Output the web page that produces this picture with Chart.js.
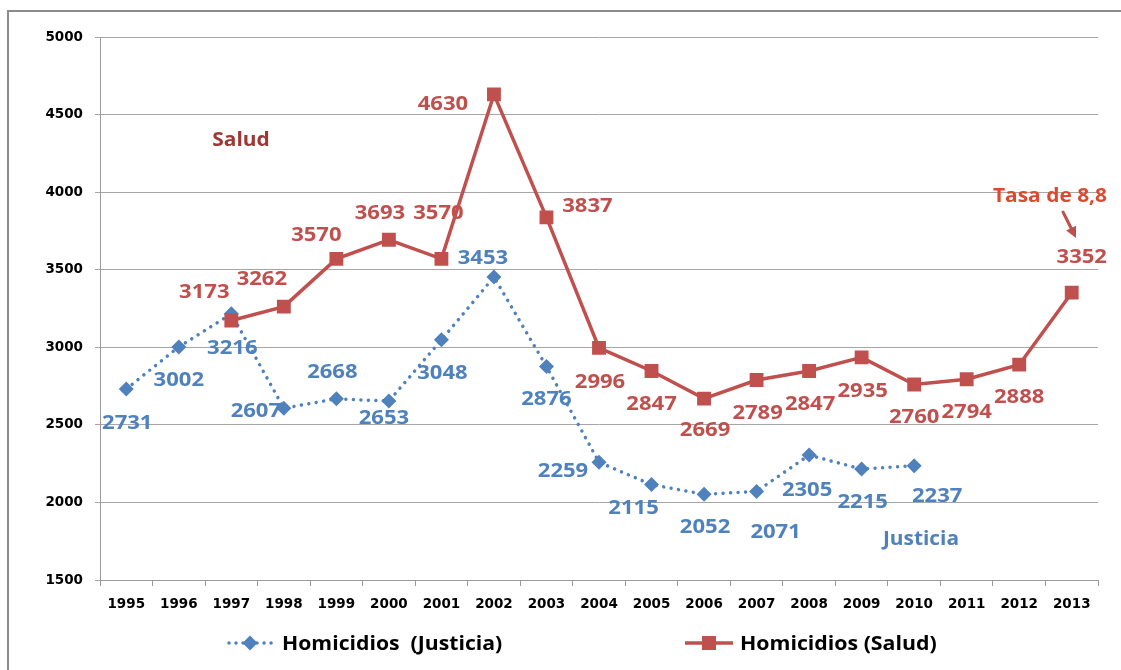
<!DOCTYPE html>
<html>
<head>
<meta charset="utf-8">
<script src="https://cdn.jsdelivr.net/npm/chart.js@4.4.1/dist/chart.umd.min.js"></script>
<style>
html,body{margin:0;padding:0;background:#fff;}
canvas{display:block;}
</style>
</head>
<body>
<canvas id="c" width="1121" height="670"></canvas>
<script>
// ---- data ----
const years = ['1995','1996','1997','1998','1999','2000','2001','2002','2003','2004','2005','2006','2007','2008','2009','2010','2011','2012','2013'];
const justicia = [2731,3002,3216,2607,2668,2653,3048,3453,2876,2259,2115,2052,2071,2305,2215,2237,null,null,null];
const salud = [null,null,3173,3262,3570,3693,3570,4630,3837,2996,2847,2669,2789,2847,2935,2760,2794,2888,3352];
const yTicks = [1500,2000,2500,3000,3500,4000,4500,5000];
const legendNames = ['Homicidios  (Justicia)','Homicidios (Salud)'];

// ---- label placement (pixel offsets from each point) ----
const justiciaLabelOffsets = [[1,33],[0,32],[1,33],[-28,2],[-4,-28],[-5,16],[1,32],[-11,-20],[0,32],[-36,8],[-18,23],[1,32],[19,40],[-2,34],[1,32],[23,30],null,null,null];
const saludLabelOffsets = [null,null,[-27,-29],[-22,-28],[-20,-25],[-9,-28],[-3,-47],[-51,9],[41,-12],[1,33],[0,32],[1,31],[1,32],[1,32],[1,33],[0,32],[0,32],[0,32],[10,-36]];

const BLUE = '#4F81BD', RED = '#C0504D';
const LABEL_FONT = '"Open Sans"';
const CAP = 0.714;
const HS = 1.16; // horizontal stretch of the label lettering

function stretchedText(ctx, text, x, y, size, color, align, hs) {
  ctx.save();
  ctx.font = 'bold ' + size + 'px ' + LABEL_FONT;
  ctx.fillStyle = color;
  ctx.textAlign = align || 'center';
  ctx.textBaseline = 'alphabetic';
  ctx.translate(x, y + size * CAP / 2);
  ctx.scale(hs || HS, 1);
  ctx.fillText(text, 0, 0);
  ctx.restore();
}

const framePlugin = {
  id: 'frame',
  beforeDraw(chart) {
    const ctx = chart.ctx;
    ctx.save();
    ctx.fillStyle = '#fff';
    ctx.fillRect(0, 0, chart.width, chart.height);
    ctx.strokeStyle = '#8c8c8c';
    ctx.lineWidth = 2;
    ctx.beginPath();
    ctx.moveTo(8, chart.height);
    ctx.lineTo(8, 11);
    ctx.lineTo(chart.width, 11);
    ctx.stroke();
    ctx.restore();
  }
};

const labelsPlugin = {
  id: 'pointLabels',
  afterDatasetsDraw(chart) {
    const ctx = chart.ctx;
    const offsets = [justiciaLabelOffsets, saludLabelOffsets];
    const colors = [BLUE, RED];
    chart.data.datasets.forEach((ds, di) => {
      const meta = chart.getDatasetMeta(di);
      meta.data.forEach((pt, i) => {
        const v = ds.data[i];
        const off = offsets[di][i];
        if (v == null || !off) return;
        stretchedText(ctx, String(v), pt.x + off[0], pt.y + off[1], 19, colors[di]);
      });
    });
    // annotations
    stretchedText(ctx, 'Salud', 241, 139, 19, '#9E3633', 'center', 1.1);
    stretchedText(ctx, 'Justicia', 921, 538, 19, BLUE, 'center', 1.1);
    stretchedText(ctx, 'Tasa de 8,8', 1050, 195, 19, '#DB4A2F', 'center', 1.1);
    // arrow
    ctx.save();
    ctx.strokeStyle = RED; ctx.fillStyle = RED;
    ctx.lineWidth = 3; ctx.lineCap = 'round';
    const x1 = 1063, y1 = 212, x2 = 1076, y2 = 238;
    const a = Math.atan2(y2 - y1, x2 - x1);
    ctx.beginPath();
    ctx.moveTo(x1, y1);
    ctx.lineTo(x2 - 5 * Math.cos(a), y2 - 5 * Math.sin(a));
    ctx.stroke();
    ctx.beginPath();
    ctx.moveTo(x2, y2);
    ctx.lineTo(x2 - 11 * Math.cos(a) + 5.5 * Math.sin(a), y2 - 11 * Math.sin(a) - 5.5 * Math.cos(a));
    ctx.lineTo(x2 - 11 * Math.cos(a) - 5.5 * Math.sin(a), y2 - 11 * Math.sin(a) + 5.5 * Math.cos(a));
    ctx.closePath();
    ctx.fill();
    ctx.restore();
  }
};

const legendPlugin = {
  id: 'customLegend',
  afterDraw(chart) {
    const ctx = chart.ctx;
    const ds = chart.data.datasets;
    const y = 643;
    // Justicia: dotted line + diamond
    ctx.save();
    ctx.strokeStyle = ds[0].borderColor;
    ctx.lineWidth = 3.5;
    ctx.lineCap = 'round';
    ctx.setLineDash([0.01, 7]);
    ctx.beginPath(); ctx.moveTo(229, y); ctx.lineTo(272, y); ctx.stroke();
    ctx.setLineDash([]);
    ctx.fillStyle = ds[0].backgroundColor;
    ctx.beginPath();
    ctx.moveTo(250, y - 7.5); ctx.lineTo(257.5, y); ctx.lineTo(250, y + 7.5); ctx.lineTo(242.5, y);
    ctx.closePath(); ctx.fill();
    // Salud: solid line + square
    ctx.strokeStyle = ds[1].borderColor;
    ctx.lineWidth = 3.5;
    ctx.lineCap = 'butt';
    ctx.beginPath(); ctx.moveTo(685, y); ctx.lineTo(733, y); ctx.stroke();
    ctx.fillStyle = ds[1].backgroundColor;
    ctx.fillRect(702, y - 7, 14, 14);
    ctx.restore();
    stretchedText(ctx, ds[0].label, 282, y, 20, '#000', 'left', 1.06);
    stretchedText(ctx, ds[1].label, 740, y, 20, '#000', 'left', 1.065);
  }
};

function draw() {
  new Chart(document.getElementById('c'), {
    type: 'line',
    data: {
      labels: years,
      datasets: [
        {
          label: legendNames[0],
          data: justicia,
          order: 1,
          borderColor: BLUE,
          backgroundColor: BLUE,
          borderWidth: 3.5,
          borderDash: [0.01, 7.5],
          borderCapStyle: 'round',
          pointStyle: 'rectRot',
          pointRadius: 7.5,
          pointBorderWidth: 0,
          pointBackgroundColor: BLUE,
          tension: 0,
          spanGaps: false
        },
        {
          label: legendNames[1],
          data: salud,
          order: 0,
          borderColor: RED,
          backgroundColor: RED,
          borderWidth: 3.5,
          pointStyle: 'rect',
          pointRadius: 9.8,
          pointBorderWidth: 0,
          pointBackgroundColor: RED,
          tension: 0
        }
      ]
    },
    options: {
      responsive: false,
      animation: false,
      events: [],
      layout: { padding: { left: 0, top: 37, right: 23, bottom: 50 } },
      plugins: { legend: { display: false }, tooltip: { enabled: false } },
      scales: {
        x: {
          offset: true,
          grid: { offset: true, drawOnChartArea: false, drawTicks: true, tickLength: 6, color: '#9a9a9a' },
          border: { color: '#9a9a9a', width: 1 },
          ticks: { color: '#000', font: { family: 'DejaVu Sans', weight: 'bold', size: 13.5 }, padding: 10, maxRotation: 0, autoSkip: false },
          afterFit(s) { s.height = 40; }
        },
        y: {
          min: yTicks[0],
          max: yTicks[yTicks.length - 1],
          afterBuildTicks(s) { s.ticks = yTicks.map(v => ({ value: v })); },
          grid: { color: '#a6a6a6', tickLength: 5, lineWidth: 1 },
          border: { color: '#9a9a9a', width: 1 },
          ticks: { color: '#000', font: { family: 'DejaVu Sans', weight: 'bold', size: 13.5 }, padding: 12, callback: v => String(v) },
          afterFit(s) { s.width = 100; }
        }
      }
    },
    plugins: [framePlugin, labelsPlugin, legendPlugin]
  });
}

if (document.fonts && document.fonts.load) {
  Promise.all([
    document.fonts.load('bold 19px "Open Sans"'),
    document.fonts.load('bold 13px "DejaVu Sans"')
  ]).then(draw, draw);
} else {
  draw();
}
</script>
</body>
</html>
